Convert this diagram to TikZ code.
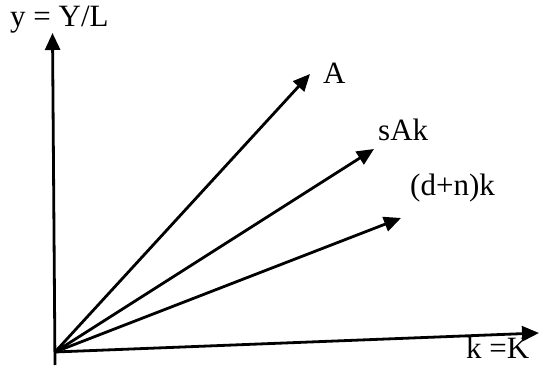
\documentclass[tikz,border=0pt]{standalone}
\usepackage{fontspec}
\setmainfont{Liberation Serif}
\usetikzlibrary{arrows.meta}
\begin{document}
\begin{tikzpicture}[x=1pt,y=1pt,
  axis/.style={line width=2.8pt,-{Triangle[length=17pt,width=15pt]}},
  lbl/.style={anchor=base west,inner sep=0pt,font=\fontsize{31}{36}\selectfont}]
\useasboundingbox (0,0) rectangle (539,365);
\coordinate (O) at (55,13);
\coordinate (ybot) at (55,0);
\coordinate (ytip) at (52.5,332);
\coordinate (xtip) at (539,32);
\coordinate (atip) at (310,291);
\coordinate (stip) at (374,216);
\coordinate (dtip) at (401,147);
\draw[axis] (ybot) -- (ytip);
\draw[axis] (O) -- (xtip);
\draw[axis] (O) -- (atip);
\draw[axis] (O) -- (stip);
\draw[axis] (O) -- (dtip);
\node[lbl] (ylab) at (10,338) {y = Y/L};
\node[lbl] (alab) at (323,281) {A};
\node[lbl] (slab) at (378,225) {sAk};
\node[lbl] (dlab) at (410,170) {(d+n)k};
\node[lbl] (klab) at (466,7) {k =K};
\end{tikzpicture}
\end{document}
